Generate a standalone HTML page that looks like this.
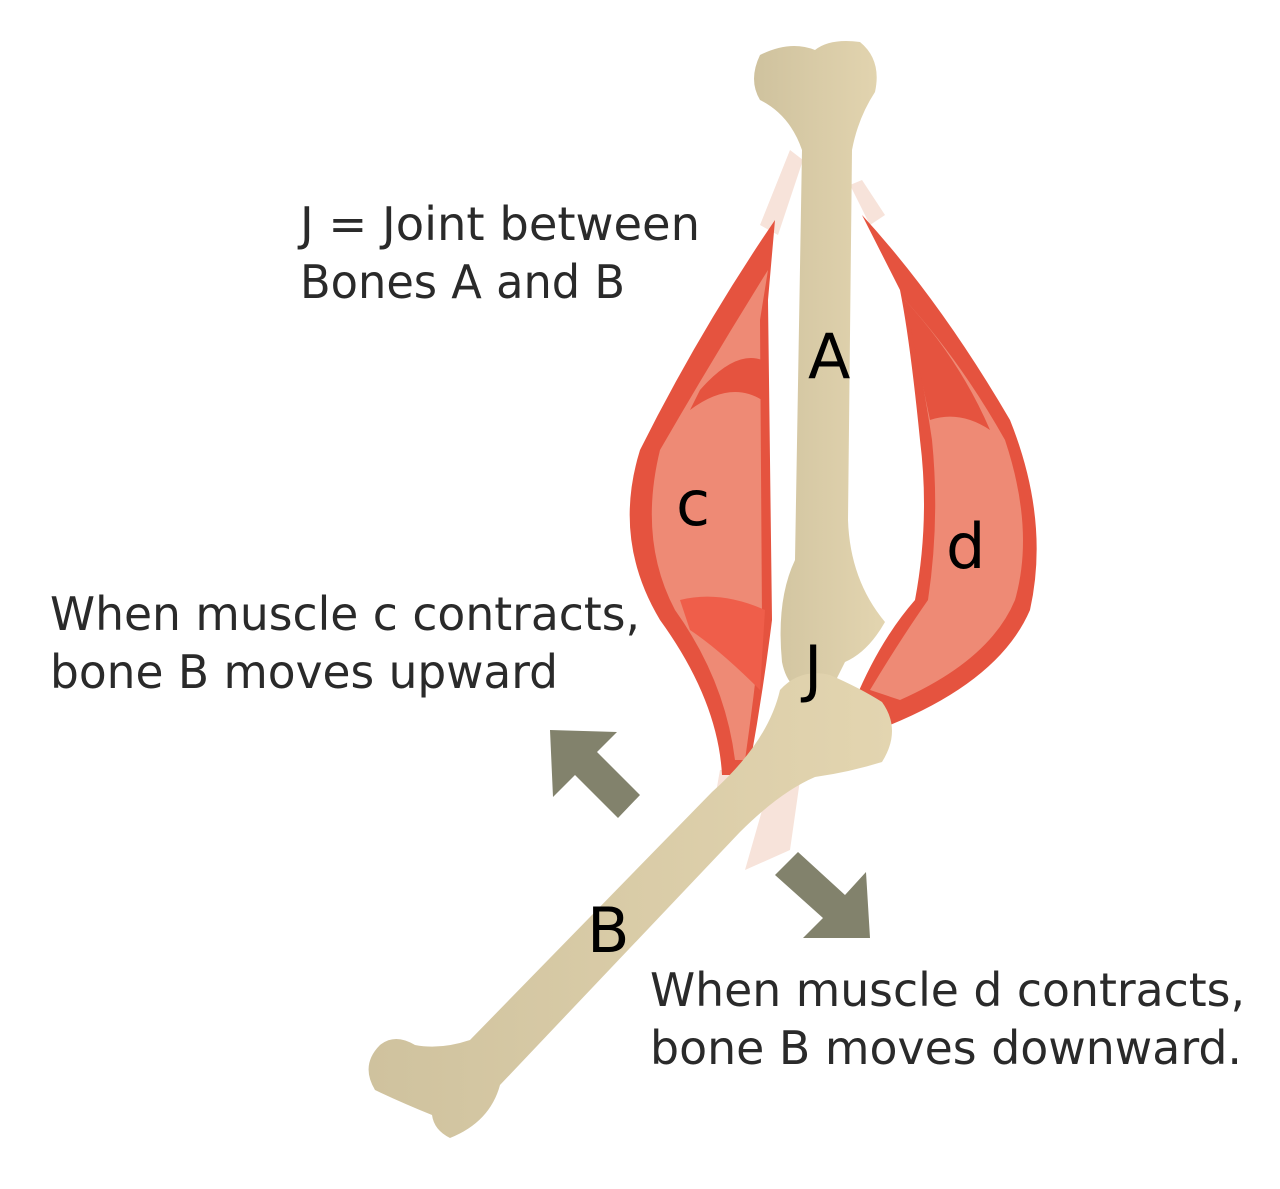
<!DOCTYPE html>
<html><head><meta charset="utf-8"><style>
html,body{margin:0;padding:0;background:#fff;}
svg{display:block}
text{font-family:"DejaVu Sans","Liberation Sans",sans-serif;fill:#2a2a2a}
</style></head><body>
<svg width="1280" height="1189" viewBox="0 0 1280 1189" xmlns="http://www.w3.org/2000/svg">
<defs>
<linearGradient id="bone" x1="0" x2="1" y1="0" y2="0">
<stop offset="0" stop-color="#cfc29e"/><stop offset="1" stop-color="#e3d5b0"/>
</linearGradient>
</defs>
<!-- tendons -->
<path d="M790,150 L803,160 L778,235 L760,225 Z" fill="#f7e3da"/>
<path d="M850,185 L862,180 L885,215 L870,225 Z" fill="#f7e3da"/>
<path d="M720,770 L745,770 L735,830 L712,815 Z" fill="#f7e3da"/>
<path d="M765,800 L800,780 L790,850 L745,870 Z" fill="#f7e3da"/>
<!-- muscle c -->
<path d="M775,220 Q700,330 640,450 Q612,540 660,620 Q718,700 722,775 L748,775 Q762,700 772,620 L768,300 Z" fill="#e5533f"/>
<path d="M768,270 Q712,360 660,450 Q638,540 675,610 Q725,680 735,760 L745,760 Q755,690 762,620 L760,320 Z" fill="#ee8a75"/>
<path d="M700,390 Q735,350 762,360 L762,400 Q730,380 690,410 Z" fill="#e5533f"/>
<path d="M680,600 Q720,590 765,610 L760,690 Q720,650 690,630 Z" fill="#ef5e4a"/>
<!-- muscle d -->
<path d="M862,215 Q940,300 1010,420 Q1050,520 1030,610 Q1000,680 890,725 L855,700 Q880,640 915,600 Q930,520 920,440 Q910,340 900,290 Z" fill="#e5533f"/>
<path d="M905,300 Q960,360 1005,440 Q1035,530 1015,600 Q990,660 900,700 L870,690 Q900,640 928,600 Q940,520 932,440 Q920,360 905,300 Z" fill="#ee8a75"/>
<path d="M905,300 Q960,360 990,430 Q960,410 930,420 Z" fill="#e5533f"/>
<!-- bone A -->
<path d="M760,55 Q790,40 815,50 Q830,38 860,42 Q882,60 875,92 Q858,118 852,150 L848,520 Q850,580 885,622 Q868,652 845,662 L830,692 Q790,702 782,662 Q776,600 795,560 L802,150 Q790,115 760,100 Q748,80 760,55 Z" fill="url(#bone)"/>
<!-- bone B -->
<path d="M780,690 Q800,668 830,675 Q860,688 882,702 Q902,730 882,762 Q850,772 815,777 Q780,792 740,832 L500,1085 Q490,1122 450,1138 Q434,1130 432,1115 Q400,1102 375,1090 Q360,1065 380,1045 Q395,1033 415,1045 Q440,1050 470,1040 L712,792 Q768,742 780,690 Z" fill="url(#bone)"/>
<!-- arrows -->
<polygon points="550,730 617,732 597,752 640,795 618,818 575,775 553,797" fill="#82826c"/>
<polygon points="870,938 803,938 823,918 775,875 798,852 845,895 866,872" fill="#82826c"/>
<!-- labels -->
<text x="300" y="240" font-size="46" textLength="400" lengthAdjust="spacingAndGlyphs">J = Joint between</text>
<text x="300" y="298" font-size="46" textLength="325" lengthAdjust="spacingAndGlyphs">Bones A and B</text>
<text x="50" y="630" font-size="46" textLength="590" lengthAdjust="spacingAndGlyphs">When muscle c contracts,</text>
<text x="50" y="688" font-size="46" textLength="508" lengthAdjust="spacingAndGlyphs">bone B moves upward</text>
<text x="650" y="1006" font-size="46" textLength="595" lengthAdjust="spacingAndGlyphs">When muscle d contracts,</text>
<text x="650" y="1064" font-size="46" textLength="592" lengthAdjust="spacingAndGlyphs">bone B moves downward.</text>
<text x="808" y="378" font-size="62" fill="#000" style="fill:#000">A</text>
<text x="676" y="525" font-size="62" style="fill:#000">c</text>
<text x="946" y="568" font-size="62" style="fill:#000">d</text>
<text x="804" y="690" font-size="62" style="fill:#000">J</text>
<text x="587" y="952" font-size="62" style="fill:#000">B</text>
</svg>
</body></html>
